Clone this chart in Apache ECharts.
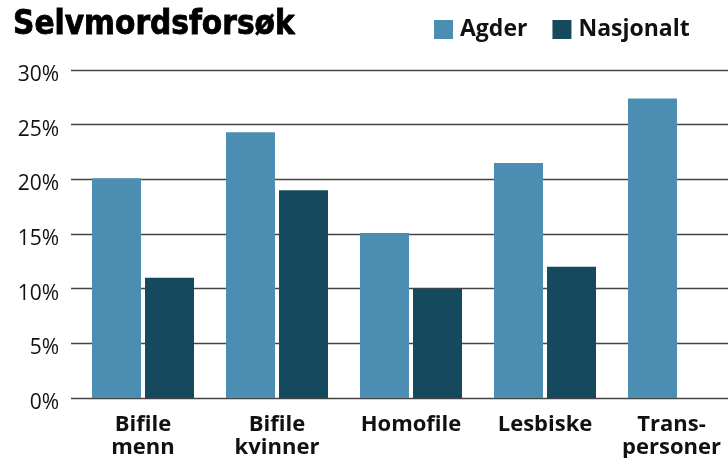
<!DOCTYPE html>
<html>
<head>
<meta charset="utf-8">
<script src="https://cdn.jsdelivr.net/npm/echarts@6/dist/echarts.min.js"></script>
<style>
html,body{margin:0;padding:0;background:#fff;}
#c{width:728px;height:458px;}
</style>
</head>
<body>
<div id="c"></div>
<script>
const categories = ['Bifile\nmenn', 'Bifile\nkvinner', 'Homofile', 'Lesbiske', 'Trans-\npersoner'];
const agder = [20.1, 24.3, 15.1, 21.5, 27.4];
const nasjonalt = [11.0, 19.0, 10.0, 12.0, null];
const yTicks = [0, 5, 10, 15, 20, 25, 30];

const catData = categories.map((c, i) => i === categories.length - 1
  ? {value: c, textStyle: {padding: [0, 15, 0, 0]}}
  : c);

const chart = echarts.init(document.getElementById('c'), null, {renderer: 'canvas'});
chart.setOption({
  animation: false,
  backgroundColor: '#fff',
  title: {
    text: 'Selvmordsforsøk',
    left: 8,
    top: 4,
    textStyle: {
      fontFamily: 'DejaVu Sans Condensed',
      fontWeight: 'bold',
      fontSize: 33,
      color: '#000',
      textBorderColor: '#000',
      textBorderWidth: 0.8
    }
  },
  legend: {
    left: 429,
    top: 13,
    itemWidth: 19,
    itemHeight: 19,
    itemGap: 25,
    icon: 'rect',
    textStyle: {
      fontFamily: 'Open Sans',
      fontWeight: 'bold',
      fontSize: 23,
      color: '#111',
      padding: [0, 0, 0, 2]
    },
    data: ['Agder', 'Nasjonalt']
  },
  grid: [
    {left: 71, right: 0, top: 70, bottom: 60, containLabel: false, outerBoundsMode: 'none'},
    {left: 76, width: 670, top: 70, bottom: 60, containLabel: false, outerBoundsMode: 'none'}
  ],
  xAxis: [
    {gridIndex: 0, type: 'category', data: [], show: false},
    {
      gridIndex: 1, type: 'category', data: catData,
      axisLine: {show: false}, axisTick: {show: false},
      axisLabel: {
        interval: 0,
        margin: 15,
        fontFamily: 'Open Sans',
        fontWeight: 'bold',
        fontSize: 22,
        lineHeight: 23,
        color: '#111',
        verticalAlign: 'top'
      }
    }
  ],
  yAxis: [
    {
      gridIndex: 0, type: 'value', min: 0, max: 30, interval: 5,
      axisLine: {show: false}, axisTick: {show: false},
      splitLine: {show: true, lineStyle: {color: '#444', width: 1.4}},
      axisLabel: {
        margin: 12,
        fontFamily: 'Open Sans',
        fontSize: 21,
        color: '#111',
        verticalAlign: 'top',
        lineHeight: 10,
        formatter: v => yTicks.includes(v) ? v + '%' : ''
      }
    },
    {gridIndex: 1, type: 'value', min: 0, max: 30, interval: 5, show: false, splitLine: {show: false}}
  ],
  series: [
    {
      name: 'Agder', type: 'bar', xAxisIndex: 1, yAxisIndex: 1,
      data: agder, barWidth: 49, barGap: '8.2%',
      itemStyle: {color: '#4C8EB2'}
    },
    {
      name: 'Nasjonalt', type: 'bar', xAxisIndex: 1, yAxisIndex: 1,
      data: nasjonalt, barWidth: 49, barGap: '8.2%',
      itemStyle: {color: '#154A5E'}
    }
  ]
});
</script>
</body>
</html>
